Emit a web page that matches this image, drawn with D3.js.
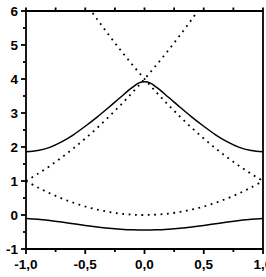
<!DOCTYPE html>
<html><head><meta charset="utf-8">
<script src="https://cdn.jsdelivr.net/npm/d3@7"></script>
<style>body{margin:0;background:#fff}svg{display:block}</style>
</head><body>
<script>
// ---- data ----
const kSolid = [-1,-0.9,-0.8,-0.7,-0.6,-0.5,-0.4,-0.3,-0.2,-0.1,-0.05,0,0.05,0.1,0.2,0.3,0.4,0.5,0.6,0.7,0.8,0.9,1];
const band1  = [-0.10,-0.122,-0.160,-0.206,-0.257,-0.308,-0.353,-0.390,-0.417,-0.435,-0.439,-0.44,-0.439,-0.435,-0.417,-0.390,-0.353,-0.308,-0.257,-0.206,-0.160,-0.122,-0.10];
const band2  = [1.86,1.90,1.99,2.15,2.36,2.61,2.88,3.17,3.47,3.76,3.88,3.92,3.88,3.76,3.47,3.17,2.88,2.61,2.36,2.15,1.99,1.90,1.86];

const kFree0 = [-1,-0.9,-0.8,-0.7,-0.6,-0.5,-0.4,-0.3,-0.2,-0.1,0,0.1,0.2,0.3,0.4,0.5,0.6,0.7,0.8,0.9,1];
const free0  = [1,0.81,0.64,0.49,0.36,0.25,0.16,0.09,0.04,0.01,0,0.01,0.04,0.09,0.16,0.25,0.36,0.49,0.64,0.81,1];
const kFreeL = [-1,-0.9,-0.8,-0.7,-0.6,-0.5,-0.4,-0.3,-0.2,-0.1,0,0.1,0.2,0.3,0.4,0.5];
const freeL  = [1,1.21,1.44,1.69,1.96,2.25,2.56,2.89,3.24,3.61,4,4.41,4.84,5.29,5.76,6.25];
const kFreeR = [-0.5,-0.4,-0.3,-0.2,-0.1,0,0.1,0.2,0.3,0.4,0.5,0.6,0.7,0.8,0.9,1];
const freeR  = [6.25,5.76,5.29,4.84,4.41,4,3.61,3.24,2.89,2.56,2.25,1.96,1.69,1.44,1.21,1];

const xMajor = [-1,-0.5,0,0.5,1];
const xMinor = [-0.75,-0.25,0.25,0.75];
const xTickLabels = ["-1,0","-0,5","0,0","0,5","1,0"];
const yMajor = [-1,0,1,2,3,4,5,6];
const yMinor = [-0.5,0.5,1.5,2.5,3.5,4.5,5.5];
const yTickLabels = ["-1","0","1","2","3","4","5","6"];

// ---- drawing ----
const W = 266, H = 277;
const L = 26, R = 263, T = 11, B = 249;
const x = d3.scaleLinear().domain([-1,1]).range([L,R]);
const y = d3.scaleLinear().domain([-1,6]).range([B,T]);

const svg = d3.select("body").append("svg").attr("width",W).attr("height",H);
svg.append("defs").append("clipPath").attr("id","clip")
  .append("rect").attr("x",L).attr("y",T).attr("width",R-L).attr("height",B-T);

const plot = svg.append("g").attr("clip-path","url(#clip)");
function addLine(ks, vs, solid, curve){
  const pts = ks.map((k,i)=>[k,vs[i]]);
  const line = d3.line().x(d=>x(d[0])).y(d=>y(d[1])).curve(curve);
  const p = plot.append("path").attr("d",line(pts)).attr("fill","none").attr("stroke","#000");
  if(solid){ p.attr("stroke-width",1.5); }
  else { p.attr("stroke-width",1.8).attr("stroke-dasharray","1.8,4.6"); }
}
addLine(kFree0, free0, false, d3.curveCatmullRom);
addLine(kFreeL, freeL, false, d3.curveCatmullRom);
addLine(kFreeR, freeR, false, d3.curveCatmullRom);
addLine(kSolid, band1, true, d3.curveMonotoneX);
addLine(kSolid, band2, true, d3.curveMonotoneX);

const font = "'Liberation Sans', Arial, sans-serif";
const ax = svg.append("g").attr("stroke","#000").attr("stroke-width",1.8).attr("fill","none");
// frame
ax.append("line").attr("x1",L).attr("x2",R).attr("y1",T).attr("y2",T);
ax.append("line").attr("x1",L).attr("x2",R).attr("y1",B).attr("y2",B);
ax.append("line").attr("x1",L).attr("x2",L).attr("y1",T).attr("y2",B);
ax.append("line").attr("x1",R).attr("x2",R).attr("y1",T).attr("y2",B);

// bottom ticks (outward)
xMajor.forEach(v=>ax.append("line").attr("x1",x(v)).attr("x2",x(v)).attr("y1",B).attr("y2",B+5));
xMinor.forEach(v=>ax.append("line").attr("x1",x(v)).attr("x2",x(v)).attr("y1",B).attr("y2",B+3));
// top ticks (outward)
xMajor.concat(xMinor).forEach(v=>ax.append("line").attr("x1",x(v)).attr("x2",x(v)).attr("y1",T).attr("y2",T-3.5));
// left ticks (outward)
yMajor.forEach(v=>ax.append("line").attr("x1",L-5).attr("x2",L).attr("y1",y(v)).attr("y2",y(v)));
yMinor.forEach(v=>ax.append("line").attr("x1",L-3).attr("x2",L).attr("y1",y(v)).attr("y2",y(v)));

// labels
svg.append("g").selectAll("text").data(xMajor).join("text")
  .attr("x",d=>x(d)).attr("y",269).attr("text-anchor","middle")
  .attr("font-family",font).attr("font-weight","bold").attr("font-size",13.5)
  .text((d,i)=>xTickLabels[i]);
svg.append("g").selectAll("text").data(yMajor).join("text")
  .attr("x",18).attr("y",d=>y(d)).attr("dy","0.36em").attr("text-anchor","end")
  .attr("font-family",font).attr("font-weight","bold").attr("font-size",13.5)
  .text((d,i)=>yTickLabels[i]);
</script>
</body></html>
